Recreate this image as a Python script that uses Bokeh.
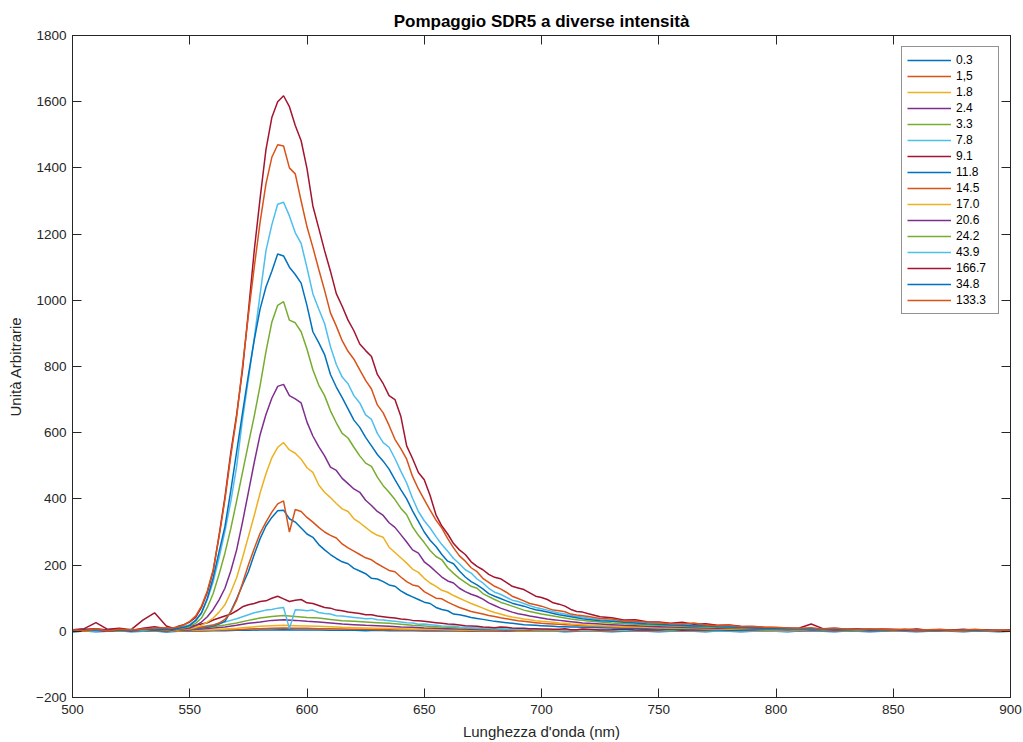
from bokeh.plotting import figure
from bokeh.models import LinearAxis, FixedTicker, Legend, LegendItem, Range1d, ColumnDataSource
from bokeh.embed import file_html
from bokeh.resources import INLINE

# ---------------- data ----------------
# coarse grid (5 nm) for the weakest spectra
wavelength_coarse = list(range(500, 905, 5))
# finer grid (2.5 nm between 540 and 720 nm) for the stronger spectra
wavelength_fine = list(range(500, 540, 5)) + [540 + 2.5 * i for i in range(73)] + list(range(725, 905, 5))

labels = ["0.3", "1,5", "1.8", "2.4", "3.3", "7.8", "9.1", "11.8", "14.5",
          "17.0", "20.6", "24.2", "43.9", "166.7", "34.8", "133.3"]

s_0_3 = [-2, 1, -1, 0, 2, -1, 0, 1, -2, 0,
         1, 1, 2, 2, 3, 3, 4, 4, 5, 4,
         4, 4, 3, 3, 3, 2, 3, 2, 2, 2,
         1, 2, 1, 1, 0, 1, 1, 0, 1, 0,
         0, 1, -1, 0, 1, 0, -1, 0, 1, 0,
         -1, 0, 1, 0, -1, 1, 0, -1, 0, 1,
         0, -1, 1, 0, 0, -1, 1, 0, -1, 0,
         1, 0, -1, 0, 1, 0, -1, 1, 0, -1,
         0]
s_1_5 = [1, 0, 1, 0, 1, 1, 0, 2, 1, 1,
         2, 2, 3, 4, 5, 7, 8, 9, 10, 9,
         9, 8, 8, 7, 6, 6, 5, 5, 4, 4,
         3, 3, 3, 2, 2, 2, 1, 2, 1, 1,
         1, 1, 1, 0, 1, 1, 0, 1, 0, 1,
         0, 1, 0, 1, 0, 0, 1, 0, 0, 1,
         0, 0, 1, 0, 0, 1, 0, 0, 0, 1,
         0, 0, 1, 0, 0, 0, 1, 0, 0, 0,
         0]
s_1_8 = [0, 1, 0, 1, 2, 0, 1, 1, 2, 2,
         3, 4, 5, 7, 9, 12, 15, 17, 18, 17,
         16, 15, 14, 12, 11, 10, 9, 9, 8, 7,
         6, 6, 5, 4, 4, 3, 3, 3, 2, 2,
         2, 2, 1, 2, 1, 1, 2, 1, 1, 1,
         1, 0, 1, 1, 0, 1, 1, 0, 1, 0,
         1, 0, 0, 1, 0, 1, 0, 0, 1, 0,
         0, 1, 0, 0, 1, 0, 0, 1, 0, 0,
         0]
s_2_4 = [1, 0, 2, 1, 1, 2, 1, 3, 2, 3,
         5, 7, 10, 13, 18, 24, 28, 33, 35, 33,
         30, 28, 25, 22, 20, 18, 17, 15, 13, 12,
         10, 9, 8, 7, 6, 5, 5, 4, 4, 3,
         3, 3, 2, 2, 3, 2, 2, 1, 2, 1,
         1, 2, 1, 1, 1, 2, 1, 0, 1, 1,
         1, 0, 1, 1, 0, 1, 0, 1, 0, 1,
         0, 1, 0, 1, 0, 0, 1, 0, 1, 0,
         0]
s_3_3 = [1, 2, 3, 1, 2, 3, 2, 4, 3, 5,
         7, 10, 14, 19, 25, 33, 40, 45, 48, 45,
         42, 40, 36, 32, 30, 28, 26, 24, 21, 18,
         16, 14, 12, 10, 9, 8, 7, 6, 5, 5,
         4, 4, 3, 3, 3, 2, 3, 2, 2, 2,
         2, 1, 2, 2, 1, 2, 1, 1, 2, 1,
         1, 1, 2, 1, 0, 1, 1, 0, 1, 1,
         0, 1, 1, 0, 1, 0, 1, 0, 1, 0,
         1]

s_7_8 = [2, 4, 3, 5, 2, 4, 6, 5,
         7, 5, 6, 8, 10, 12, 14, 17, 20, 24,
         28, 33, 38, 44, 50, 56, 60, 64, 66, 70,
         72, 8, 65, 64, 62, 64, 57, 54, 52, 47,
         46, 44, 42, 40, 38, 39, 35, 34, 32, 30,
         28, 26, 25, 21, 22, 20, 18, 16, 15, 16,
         13, 12, 11, 10, 10, 9, 8, 8, 7, 7,
         6, 6, 6, 5, 5, 5, 5, 4, 4, 4,
         4, 3, 3,
         4, 3, 3, 2, 3,
         2, 3, 2, 2, 3, 1, 2, 2, 1, 2,
         1, 2, 1, 2, 1, 1, 2, 1, 0, 1,
         1, 0, 1, 1, 0, 1, 0, 1, 1, 0,
         1]
s_9_1 = [5, 8, 26, 6, 9, 5, 34, 56,
         16, 10, 12, 14, 15, 18, 22, 26, 34, 40,
         46, 52, 62, 74, 80, 84, 90, 92, 100, 106,
         98, 90, 94, 96, 86, 84, 78, 72, 70, 64,
         62, 58, 56, 54, 50, 50, 46, 44, 42, 40,
         37, 36, 33, 32, 30, 28, 26, 24, 22, 21,
         19, 17, 16, 15, 13, 12, 11, 13, 12, 10,
         9, 9, 8, 8, 7, 7, 6, 6, 8, 5,
         5, 7, 6,
         4, 5, 7, 4, 5,
         4, 6, 3, 5, 4, 6, 3, 4, 5, 3,
         4, 3, 5, 4, 3, 5, 2, 4, 3, 4,
         3, 5, 2, 4, 3, 2, 4, 3, 2, 3,
         3]
s_11_8 = [0, 1, 0, 2, 1, 0, 1, 2,
          1, 2, 3, 4, 5, 8, 10, 12, 16, 22,
          30, 60, 98, 140, 180, 232, 280, 318, 344, 364,
          366, 340, 330, 312, 294, 284, 262, 246, 232, 220,
          210, 204, 190, 182, 174, 160, 158, 150, 140, 136,
          122, 112, 104, 96, 88, 84, 72, 66, 62, 52,
          50, 46, 42, 39, 36, 33, 30, 28, 26, 24,
          22, 20, 19, 18, 17, 16, 15, 14, 14, 13,
          13, 12, 12,
          11, 10, 9, 9, 8,
          7, 7, 6, 6, 5, 5, 4, 4, 4, 3,
          3, 3, 2, 3, 2, 2, 1, 2, 2, 1,
          1, 2, 1, 1, 2, 0, 1, 1, 0, 1,
          1]
s_14_5 = [1, 0, 2, 1, 3, 0, 2, 3,
          2, 1, 4, 5, 6, 9, 12, 15, 18, 25,
          36, 58, 94, 145, 200, 250, 296, 330, 360, 385,
          394, 300, 368, 362, 344, 330, 314, 300, 290, 282,
          264, 252, 242, 232, 222, 216, 204, 194, 184, 180,
          164, 150, 140, 136, 120, 110, 100, 98, 88, 80,
          72, 66, 60, 56, 52, 48, 45, 41, 38, 35,
          32, 30, 28, 26, 24, 23, 22, 21, 20, 19,
          18, 17, 16,
          15, 14, 13, 12, 11,
          10, 9, 9, 8, 7, 7, 6, 6, 5, 5,
          4, 5, 3, 4, 3, 2, 3, 2, 3, 2,
          2, 1, 2, 1, 2, 1, 2, 1, 1, 2,
          1]
s_17_0 = [0, 2, 1, 3, 1, 2, 3, 2,
          4, 2, 5, 7, 8, 12, 18, 28, 40, 58,
          80, 118, 162, 222, 286, 350, 418, 476, 524, 556,
          570, 548, 538, 520, 494, 480, 442, 420, 404, 386,
          370, 362, 340, 328, 314, 300, 290, 284, 254, 238,
          222, 206, 188, 178, 160, 146, 136, 124, 118, 108,
          100, 92, 84, 77, 70, 63, 57, 52, 47, 43,
          40, 37, 35, 32, 30, 29, 27, 25, 24, 22,
          21, 20, 19,
          17, 16, 14, 13, 12,
          11, 10, 10, 9, 8, 8, 7, 6, 6, 5,
          5, 4, 5, 3, 4, 3, 2, 3, 2, 3,
          2, 1, 3, 2, 1, 2, 1, 2, 1, 2,
          1]
s_20_6 = [1, 3, 2, 0, 3, 2, 4, 3,
          5, 3, 6, 8, 10, 17, 28, 44, 66, 95,
          130, 182, 246, 330, 420, 510, 594, 655, 704, 740,
          746, 712, 702, 690, 632, 590, 558, 530, 496, 486,
          462, 446, 430, 420, 396, 380, 362, 350, 328, 314,
          292, 270, 246, 236, 210, 196, 180, 164, 152, 146,
          130, 120, 112, 106, 97, 86, 78, 70, 64, 58,
          53, 50, 46, 43, 40, 37, 35, 33, 31, 29,
          27, 25, 24,
          22, 20, 18, 17, 15,
          14, 13, 12, 11, 10, 9, 9, 8, 7, 6,
          6, 5, 6, 4, 5, 3, 4, 3, 2, 3,
          3, 2, 3, 1, 2, 3, 1, 2, 2, 1,
          2]
s_24_2 = [2, 1, 4, 3, 2, 5, 3, 6,
          5, 4, 8, 10, 15, 24, 40, 72, 114, 172,
          236, 310, 394, 480, 566, 650, 742, 845, 934, 985,
          996, 940, 932, 905, 852, 790, 744, 712, 666, 630,
          598, 584, 556, 530, 508, 498, 466, 440, 420, 398,
          372, 352, 316, 290, 268, 244, 226, 216, 192, 175,
          160, 148, 136, 130, 114, 105, 96, 88, 82, 76,
          70, 64, 60, 56, 52, 49, 46, 43, 40, 37,
          35, 33, 31,
          28, 25, 23, 21, 19,
          18, 17, 15, 14, 13, 12, 11, 10, 9, 8,
          8, 7, 6, 7, 5, 6, 4, 5, 4, 3,
          4, 3, 5, 2, 3, 4, 2, 3, 2, 3,
          2]
s_43_9 = [2, 4, 1, 5, 3, 6, 2, 8,
          7, 4, 10, 14, 20, 34, 54, 96, 150, 222,
          302, 392, 498, 640, 762, 885, 1018, 1150, 1228, 1290,
          1296, 1255, 1204, 1172, 1098, 1020, 974, 930, 860, 806,
          768, 748, 712, 690, 654, 640, 598, 570, 556, 522,
          484, 448, 402, 362, 334, 312, 286, 262, 242, 220,
          204, 186, 176, 158, 146, 130, 118, 112, 103, 94,
          90, 84, 77, 72, 68, 64, 59, 55, 52, 48,
          45, 43, 40,
          35, 33, 29, 27, 24,
          22, 20, 21, 18, 16, 15, 14, 12, 11, 10,
          9, 10, 8, 7, 8, 6, 7, 5, 6, 5,
          4, 5, 6, 3, 4, 5, 3, 4, 2, 3,
          3]
s_166_7 = [3, 6, 8, 4, 7, 2, 9, 14,
           8, 5, 15, 20, 28, 42, 72, 118, 182, 290,
           405, 540, 655, 790, 965, 1150, 1308, 1455, 1552, 1600,
           1618, 1585, 1528, 1482, 1398, 1285, 1218, 1150, 1088, 1020,
           982, 940, 908, 868, 848, 830, 776, 748, 712, 700,
           650, 560, 522, 480, 458, 410, 352, 318, 294, 265,
           246, 232, 210, 196, 186, 172, 163, 159, 148, 136,
           131, 126, 116, 106, 102, 96, 86, 82, 76, 66,
           60, 58, 53,
           44, 41, 34, 35, 29,
           28, 24, 27, 21, 23, 18, 19, 15, 14, 12,
           11, 9, 10, 22, 8, 9, 6, 8, 5, 7,
           6, 4, 7, 3, 5, 4, 6, 3, 5, 2,
           4]
s_34_8 = [1, 3, 5, 2, 4, 1, 6, 4,
          7, 3, 9, 12, 18, 32, 56, 100, 162, 240,
          316, 425, 542, 660, 774, 880, 974, 1040, 1088, 1140,
          1134, 1100, 1078, 1052, 984, 905, 872, 836, 776, 738,
          706, 672, 638, 616, 586, 560, 534, 514, 490, 458,
          428, 400, 364, 332, 300, 275, 256, 232, 212, 204,
          182, 164, 150, 140, 128, 114, 106, 99, 92, 85,
          80, 76, 70, 65, 62, 58, 54, 50, 47, 44,
          41, 38, 36,
          32, 30, 27, 25, 22,
          21, 19, 18, 16, 17, 14, 13, 12, 10, 9,
          9, 8, 7, 8, 6, 7, 5, 6, 4, 5,
          4, 5, 3, 4, 5, 2, 4, 3, 2, 3,
          2]
s_133_3 = [5, 2, 8, 1, 6, 4, 7, 9,
           11, 9, 14, 19, 30, 46, 76, 122, 186, 285,
           398, 530, 648, 800, 955, 1100, 1236, 1352, 1432, 1470,
           1466, 1400, 1382, 1300, 1222, 1160, 1094, 1030, 962, 922,
           878, 846, 822, 790, 758, 732, 684, 660, 622, 580,
           552, 520, 468, 430, 398, 366, 336, 312, 280, 252,
           228, 212, 192, 180, 160, 148, 136, 128, 118, 106,
           99, 92, 84, 80, 76, 70, 64, 62, 59, 52,
           49, 47, 45,
           39, 37, 31, 30, 27,
           26, 23, 22, 25, 19, 17, 18, 14, 15, 12,
           12, 10, 9, 11, 7, 9, 7, 6, 8, 6,
           5, 7, 4, 5, 6, 3, 4, 6, 3, 4,
           3]

series = [s_0_3, s_1_5, s_1_8, s_2_4, s_3_3, s_7_8, s_9_1, s_11_8, s_14_5,
          s_17_0, s_20_6, s_24_2, s_43_9, s_166_7, s_34_8, s_133_3]

x_ticks = [500, 550, 600, 650, 700, 750, 800, 850, 900]
y_ticks = [-200, 0, 200, 400, 600, 800, 1000, 1200, 1400, 1600, 1800]

# ---------------- style ----------------
palette = ["#0072BD", "#D95319", "#EDB120", "#7E2F8E", "#77AC30", "#4DBEEE", "#A2142F"]
FONT = "Liberation Sans"
AX = "#262626"

p = figure(width=1023, height=742, output_backend="svg", toolbar_location=None,
           x_range=Range1d(500, 900), y_range=Range1d(-200, 1800),
           min_border_left=72, min_border_right=13, min_border_top=35, min_border_bottom=45,
           title="Pompaggio SDR5 a diverse intensità")
p.background_fill_color = "white"
p.border_fill_color = "white"
p.xgrid.visible = False
p.ygrid.visible = False
p.outline_line_color = AX
p.outline_line_width = 1

p.title.align = "center"
p.title.text_font = FONT
p.title.text_font_size = "17px"
p.title.text_font_style = "bold"
p.title.text_color = "black"
p.title.standoff = 9


def style_axis(ax, ticks, show_labels):
    ax.ticker = FixedTicker(ticks=ticks)
    ax.major_tick_in = 9
    ax.major_tick_out = 0
    ax.minor_tick_in = 0
    ax.minor_tick_out = 0
    ax.axis_line_color = AX
    ax.major_tick_line_color = AX
    ax.major_label_text_font = FONT
    ax.axis_label_text_font = FONT
    ax.axis_label_text_color = AX
    ax.axis_label_text_font_style = "normal"
    ax.axis_label_text_font_size = "15px"
    if show_labels:
        ax.major_label_text_font_size = "13.5px"
        ax.major_label_text_color = AX
    else:
        ax.major_label_text_font_size = "1px"
        ax.major_label_text_color = None
        ax.major_label_standoff = 0


style_axis(p.xaxis[0], x_ticks, True)
style_axis(p.yaxis[0], y_ticks, True)
p.xaxis[0].axis_label = "Lunghezza d'onda (nm)"
p.yaxis[0].axis_label = "Unità Arbitrarie"
p.xaxis[0].major_label_standoff = 7
p.xaxis[0].axis_label_standoff = 6
p.yaxis[0].major_label_standoff = 6
p.yaxis[0].axis_label_standoff = 9

top_ax = LinearAxis()
style_axis(top_ax, x_ticks, False)
p.add_layout(top_ax, "above")
right_ax = LinearAxis()
style_axis(right_ax, y_ticks, False)
p.add_layout(right_ax, "right")

items = []
for i, (lab, ys) in enumerate(zip(labels, series)):
    xs = wavelength_coarse if len(ys) == len(wavelength_coarse) else wavelength_fine
    assert len(ys) == len(xs), (lab, len(ys), len(xs))
    src = ColumnDataSource(dict(x=xs, y=ys))
    r = p.line("x", "y", source=src, line_color=palette[i % 7], line_width=1.5)
    items.append(LegendItem(label=lab, renderers=[r]))

legend = Legend(items=items, location="top_right")
legend.margin = 11
legend.padding = 5
legend.spacing = 0
legend.glyph_width = 44
legend.glyph_height = 16
legend.label_height = 16
legend.label_width = 37
legend.label_standoff = 5
legend.label_text_font = FONT
legend.label_text_font_size = "12px"
legend.label_text_color = "black"
legend.border_line_color = AX
legend.border_line_width = 1
legend.background_fill_color = "white"
legend.background_fill_alpha = 1
p.add_layout(legend)

open("out.html", "w").write(file_html(p, INLINE))
